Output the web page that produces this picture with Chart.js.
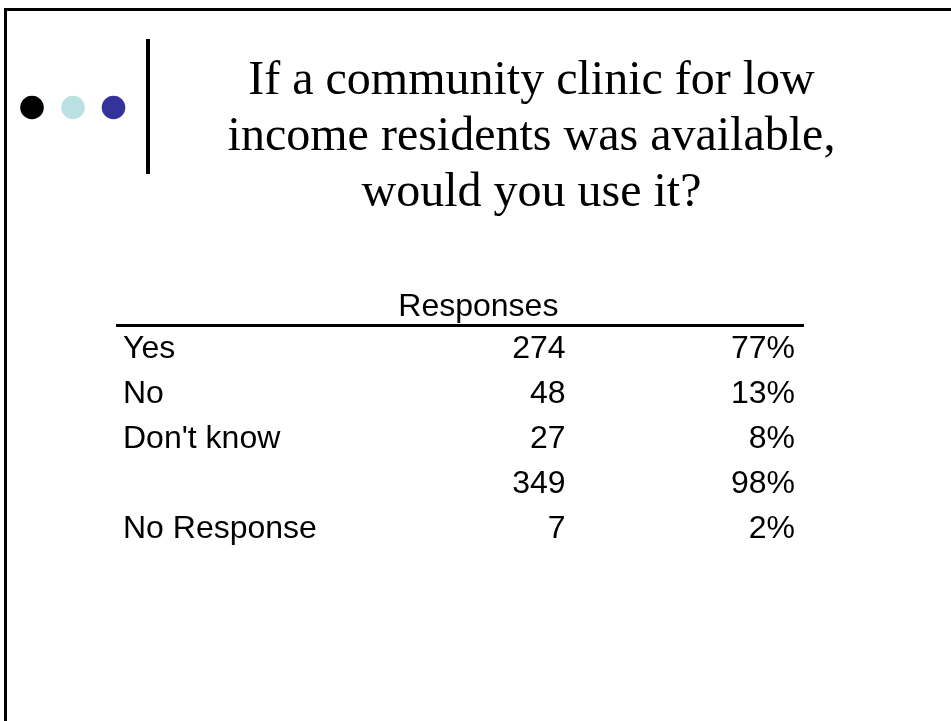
<!DOCTYPE html>
<html lang="en">
<head>
    <meta charset="UTF-8">
    <title>Community clinic survey</title>
    <style>
        html, body { margin: 0; padding: 0; background: #fff; }
        canvas { display: block; }
    </style>
</head>
<body>
    <canvas id="chart" width="951" height="721"></canvas>

    <script src="https://cdn.jsdelivr.net/npm/chart.js@4.4.0/dist/chart.umd.min.js"></script>

    <script>
        // survey data
        const titleLines = ["If a community clinic for low", "income residents was available,", "would you use it?"];
        const headerLabel = "Responses";
        const categories = ["Yes", "No", "Don't know", "", "No Response"];
        const counts = [274, 48, 27, 349, 7];
        const percents = [77, 13, 8, 98, 2];

        // table columns live on a 0..3 x scale (three equal columns)
        const LABEL_COL = 0;   // left edge of first column
        const COUNT_COL = 2;   // right edge of second column
        const PCT_COL = 3;     // right edge of third column

        const tableFont = '32px "Liberation Sans", Arial, sans-serif';
        const titleFont = '48px "Liberation Serif", "Times New Roman", serif';

        // draws the slide frame, the three dots, the bar and the title
        const slidePlugin = {
            id: 'slide',
            beforeDraw(chart) {
                const ctx = chart.ctx;
                ctx.save();
                ctx.fillStyle = '#fff';
                ctx.fillRect(0, 0, chart.width, chart.height);

                // frame (only top and left edge are visible)
                ctx.fillStyle = '#000';
                ctx.fillRect(4, 8, chart.width - 4, 3);
                ctx.fillRect(4, 8, 3, chart.height - 8);

                // dots
                const dots = [['#000000', 32], ['#b9e0e3', 73], ['#333399', 113.5]];
                dots.forEach(([color, cx]) => {
                    ctx.beginPath();
                    ctx.arc(cx, 107.5, 11.8, 0, Math.PI * 2);
                    ctx.fillStyle = color;
                    ctx.fill();
                });

                // vertical bar
                ctx.fillStyle = '#000';
                ctx.fillRect(146, 39, 4, 135);

                // title
                ctx.font = titleFont;
                ctx.textAlign = 'center';
                ctx.textBaseline = 'alphabetic';
                titleLines.forEach((line, i) => {
                    ctx.fillText(line, 531.5, 94 + i * 56.2);
                });
                ctx.restore();
            },
            afterDatasetsDraw(chart) {
                const ctx = chart.ctx;
                const x = chart.scales.x;
                const area = chart.chartArea;
                ctx.save();

                // header and rule under it
                ctx.font = tableFont;
                ctx.fillStyle = '#000';
                ctx.textAlign = 'center';
                ctx.textBaseline = 'alphabetic';
                ctx.fillText(headerLabel, x.getPixelForValue(1.58), area.top - 10);
                ctx.fillRect(area.left, area.top - 1.5, area.right - area.left, 3);

                // cell texts at each point
                ctx.textBaseline = 'middle';
                chart.data.datasets.forEach((ds, di) => {
                    const meta = chart.getDatasetMeta(di);
                    ctx.textAlign = ds.cellAlign;
                    meta.data.forEach((pt, i) => {
                        const txt = ds.cellText[i];
                        if (!txt) return;
                        const dx = ds.cellAlign === 'left' ? 7 : -9;
                        ctx.fillText(txt, pt.x + dx, pt.y + 1);
                    });
                });
                ctx.restore();
            }
        };

        const data = {
            datasets: [
                {
                    label: 'Category',
                    data: categories.map((c, i) => ({ x: LABEL_COL, y: i })),
                    cellText: categories,
                    cellAlign: 'left',
                    pointRadius: 0
                },
                {
                    label: 'Count',
                    data: counts.map((v, i) => ({ x: COUNT_COL, y: i })),
                    cellText: counts.map(v => String(v)),
                    cellAlign: 'right',
                    pointRadius: 0
                },
                {
                    label: 'Percent',
                    data: percents.map((v, i) => ({ x: PCT_COL, y: i })),
                    cellText: percents.map(v => v + '%'),
                    cellAlign: 'right',
                    pointRadius: 0
                }
            ]
        };

        const config = {
            type: 'scatter',
            data: data,
            options: {
                responsive: false,
                animation: false,
                layout: {
                    padding: { left: 116, right: 147, top: 325.5, bottom: 170.5 }
                },
                plugins: {
                    legend: { display: false },
                    tooltip: { enabled: false },
                    title: { display: false }
                },
                scales: {
                    x: { type: 'linear', min: 0, max: 3, display: false },
                    y: { type: 'category', labels: categories, offset: true, display: false }
                }
            },
            plugins: [slidePlugin]
        };

        const canvas = document.getElementById("chart").getContext("2d");
        const chart = new Chart(canvas, config);
    </script>
</body>
</html>
